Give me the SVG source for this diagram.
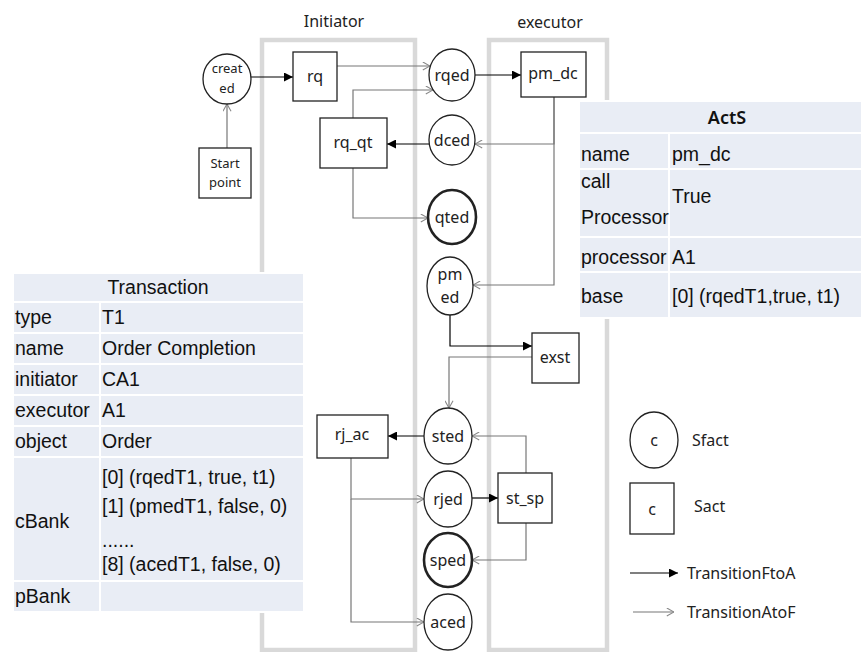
<svg xmlns="http://www.w3.org/2000/svg" width="862" height="652" viewBox="0 0 862 652">
<style>
.lane{fill:none;stroke:#d9d9d9;stroke-width:4.5}
.nd{fill:#fff;stroke:#222;stroke-width:1.3}
.fin{stroke-width:2.6}
.lbl{font-family:"Noto Sans","DejaVu Sans",sans-serif;font-size:16px;fill:#222;text-anchor:middle}
.sm{font-size:13px}
.ttl{font-family:"Noto Sans","DejaVu Sans",sans-serif;font-size:16px;fill:#222;text-anchor:middle}
.fa{fill:none;stroke:#000;stroke-width:1.2}
.af{fill:none;stroke:#777;stroke-width:1.2}
.cell{fill:#e9edf5;stroke:#fff;stroke-width:2}
.tt{font-family:"Liberation Sans",Arial,sans-serif;font-size:19.5px;fill:#111}
.th{text-anchor:middle}
.leg{font-family:"Noto Sans","DejaVu Sans",sans-serif;font-size:16px;fill:#222}
</style>
<defs>
<marker id="mFA" viewBox="0 0 10 10" refX="10" refY="5" markerWidth="9" markerHeight="9" markerUnits="userSpaceOnUse" orient="auto">
<path d="M0,0 L10,5 L0,10 z" fill="#000"/>
</marker>
<marker id="mAF" viewBox="0 0 10 10" refX="10" refY="5" markerWidth="9" markerHeight="9" markerUnits="userSpaceOnUse" orient="auto">
<path d="M2,0.5 L10,5 L2,9.5" fill="none" stroke="#888" stroke-width="1.2"/>
</marker>
</defs>
<rect width="862" height="652" fill="#fff"/>

<g id="lanes">
<rect class="lane" x="262" y="40" width="153" height="610"/>
<rect class="lane" x="489" y="40" width="118" height="610"/>
<text class="ttl" x="334" y="27">Initiator</text>
<text class="ttl" x="550" y="28">executor</text>
</g>

<g id="connectors">
<path class="fa" d="M251,77 H293" marker-end="url(#mFA)"/>
<path class="af" d="M227,148 V104" marker-end="url(#mAF)"/>
<path class="af" d="M337,66 H430" marker-end="url(#mAF)"/>
<path class="fa" d="M475,75 H521" marker-end="url(#mFA)"/>
<path class="af" d="M353,118 V90 H433" marker-end="url(#mAF)"/>
<path class="af" d="M554,97 V144 H475" marker-end="url(#mAF)"/>
<path class="fa" d="M429,144 H387" marker-end="url(#mFA)"/>
<path class="af" d="M353,168 V218 H428" marker-end="url(#mAF)"/>
<path class="af" d="M554,97 V285 H473" marker-end="url(#mAF)"/>
<path class="fa" d="M450,315 V346 H532" marker-end="url(#mFA)"/>
<path class="af" d="M532,357 H449 V408" marker-end="url(#mAF)"/>
<path class="fa" d="M424,436 H388" marker-end="url(#mFA)"/>
<path class="af" d="M526,473 V436 H472" marker-end="url(#mAF)"/>
<path class="fa" d="M472,498 H498" marker-end="url(#mFA)"/>
<path class="af" d="M351,458 V499 H424" marker-end="url(#mAF)"/>
<path class="af" d="M351,499 V622 H424" marker-end="url(#mAF)"/>
<path class="af" d="M526,523 V560 H472" marker-end="url(#mAF)"/>
</g>

<g id="created"><ellipse class="nd" cx="227" cy="79" rx="24" ry="25"/><text class="lbl sm" x="227" y="73">creat</text><text class="lbl sm" x="227" y="93">ed</text></g>
<g id="startpoint"><rect class="nd" x="199" y="148" width="52" height="50"/><text class="lbl sm" x="225" y="168">Start</text><text class="lbl sm" x="225" y="187">point</text></g>
<g id="rq"><rect class="nd" x="293" y="52" width="44" height="49"/><text class="lbl" x="315" y="82">rq</text></g>
<g id="rqed"><ellipse class="nd" cx="452" cy="75" rx="23" ry="26"/><text class="lbl" x="452" y="81">rqed</text></g>
<g id="pm_dc"><rect class="nd" x="521" y="52" width="65" height="45"/><text class="lbl" x="553" y="79">pm_dc</text></g>
<g id="rq_qt"><rect class="nd" x="320" y="118" width="67" height="50"/><text class="lbl" x="353" y="148">rq_qt</text></g>
<g id="dced"><ellipse class="nd" cx="452" cy="140" rx="23" ry="25"/><text class="lbl" x="452" y="146">dced</text></g>
<g id="qted"><ellipse class="nd fin" cx="452" cy="217" rx="24" ry="27"/><text class="lbl" x="452" y="223">qted</text></g>
<g id="pmed"><ellipse class="nd" cx="450" cy="286" rx="23" ry="29"/><text class="lbl" x="450" y="280">pm</text><text class="lbl" x="450" y="303">ed</text></g>
<g id="exst"><rect class="nd" x="532" y="333" width="47" height="50"/><text class="lbl" x="555" y="363">exst</text></g>
<g id="sted"><ellipse class="nd" cx="448" cy="436" rx="24" ry="28"/><text class="lbl" x="448" y="442">sted</text></g>
<g id="rj_ac"><rect class="nd" x="317" y="415" width="71" height="43"/><text class="lbl" x="352" y="440">rj_ac</text></g>
<g id="rjed"><ellipse class="nd" cx="448" cy="499" rx="24" ry="28"/><text class="lbl" x="448" y="505">rjed</text></g>
<g id="st_sp"><rect class="nd" x="498" y="473" width="54" height="50"/><text class="lbl" x="525" y="504">st_sp</text></g>
<g id="sped"><ellipse class="nd fin" cx="448" cy="560" rx="24" ry="27"/><text class="lbl" x="448" y="566">sped</text></g>
<g id="aced"><ellipse class="nd" cx="448" cy="622" rx="24" ry="28"/><text class="lbl" x="448" y="628">aced</text></g>

<g id="acts-table">
<rect class="cell" x="579" y="101" width="283" height="32"/>
<rect class="cell" x="579" y="133" width="90" height="36"/><rect class="cell" x="669" y="133" width="193" height="36"/>
<rect class="cell" x="579" y="169" width="90" height="68"/><rect class="cell" x="669" y="169" width="193" height="68"/>
<rect class="cell" x="579" y="237" width="90" height="35"/><rect class="cell" x="669" y="237" width="193" height="35"/>
<rect class="cell" x="579" y="272" width="90" height="46"/><rect class="cell" x="669" y="272" width="193" height="46"/>
<text class="th" x="727" y="124" font-family="Noto Sans, DejaVu Sans, sans-serif" font-weight="600" font-size="18" fill="#111">ActS</text>
<text class="tt" x="581" y="161">name</text><text class="tt" x="672" y="161">pm_dc</text>
<text class="tt" x="581" y="188">call</text><text class="tt" x="581" y="224">Processor</text><text class="tt" x="672" y="203">True</text>
<text class="tt" x="581" y="264">processor</text><text class="tt" x="672" y="264">A1</text>
<text class="tt" x="581" y="303">base</text><text class="tt" x="672" y="303">[0] (rqedT1,true, t1)</text>
</g>

<g id="transaction-table">
<rect class="cell" x="13" y="273" width="291" height="29"/>
<rect class="cell" x="13" y="302" width="87" height="31"/><rect class="cell" x="100" y="302" width="204" height="31"/>
<rect class="cell" x="13" y="333" width="87" height="31"/><rect class="cell" x="100" y="333" width="204" height="31"/>
<rect class="cell" x="13" y="364" width="87" height="31"/><rect class="cell" x="100" y="364" width="204" height="31"/>
<rect class="cell" x="13" y="395" width="87" height="31"/><rect class="cell" x="100" y="395" width="204" height="31"/>
<rect class="cell" x="13" y="426" width="87" height="31"/><rect class="cell" x="100" y="426" width="204" height="31"/>
<rect class="cell" x="13" y="457" width="87" height="124"/><rect class="cell" x="100" y="457" width="204" height="124"/>
<rect class="cell" x="13" y="581" width="87" height="31"/><rect class="cell" x="100" y="581" width="204" height="31"/>
<text class="tt th" x="158" y="294">Transaction</text>
<text class="tt" x="15" y="324">type</text><text class="tt" x="102" y="324">T1</text>
<text class="tt" x="15" y="355">name</text><text class="tt" x="102" y="355">Order Completion</text>
<text class="tt" x="15" y="386">initiator</text><text class="tt" x="102" y="386">CA1</text>
<text class="tt" x="15" y="417">executor</text><text class="tt" x="102" y="417">A1</text>
<text class="tt" x="15" y="448">object</text><text class="tt" x="102" y="448">Order</text>
<text class="tt" x="15" y="528">cBank</text>
<text class="tt" x="102" y="484">[0] (rqedT1, true, t1)</text>
<text class="tt" x="102" y="513">[1] (pmedT1, false, 0)</text>
<text class="tt" x="102" y="547">......</text>
<text class="tt" x="102" y="571">[8] (acedT1, false, 0)</text>
<text class="tt" x="15" y="603">pBank</text>
</g>

<g id="legend">
<ellipse class="nd" cx="654" cy="440" rx="24" ry="28"/><text class="lbl" x="654" y="446" font-size="15">c</text>
<text class="leg" x="692" y="446">Sfact</text>
<rect class="nd" x="630" y="483" width="44" height="51"/><text class="lbl" x="652" y="515" font-size="15">c</text>
<text class="leg" x="694" y="512">Sact</text>
<path class="fa" d="M630,573 H678" marker-end="url(#mFA)"/>
<text class="leg" x="687" y="579">TransitionFtoA</text>
<path class="af" d="M633,612 H674" marker-end="url(#mAF)"/>
<text class="leg" x="687" y="618">TransitionAtoF</text>
</g>
</svg>
